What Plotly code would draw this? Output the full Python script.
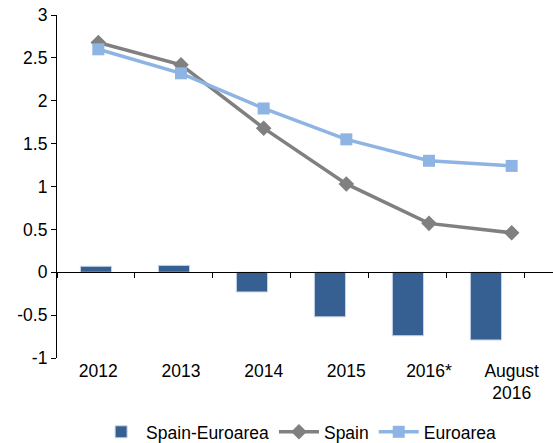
import plotly.graph_objects as go

categories = ['2012', '2013', '2014', '2015', '2016*', 'August<br>2016']
spain = [2.68, 2.42, 1.68, 1.03, 0.57, 0.46]
euroarea = [2.60, 2.32, 1.91, 1.55, 1.30, 1.24]
spain_minus_euro = [0.07, 0.08, -0.23, -0.52, -0.74, -0.79]

y_tick_vals = [-1, -0.5, 0, 0.5, 1, 1.5, 2, 2.5, 3]
y_tick_labels = ['-1', '-0.5', '0', '0.5', '1', '1.5', '2', '2.5', '3']

font_family = 'Liberation Sans, Arial, sans-serif'

fig = go.Figure()

fig.add_trace(go.Bar(
    x=categories,
    y=spain_minus_euro,
    name='Spain-Euroarea',
    xaxis='x2',
    marker=dict(color='#376092', line=dict(color='#c9d6e8', width=1))
))

fig.add_trace(go.Scatter(
    x=categories,
    y=spain,
    name='Spain',
    mode='lines+markers',
    line=dict(color='#808080', width=3.5),
    marker=dict(symbol='diamond', size=12, color='#808080')
))

fig.add_trace(go.Scatter(
    x=categories,
    y=euroarea,
    name='Euroarea',
    mode='lines+markers',
    line=dict(color='#8db4e2', width=3.5),
    marker=dict(symbol='square', size=12, color='#8db4e2')
))

fig.update_layout(
    width=553,
    height=443,
    margin=dict(l=57, r=0, t=15, b=85, autoexpand=False),
    paper_bgcolor='white',
    plot_bgcolor='white',
    font=dict(family=font_family, size=17.5, color='black'),
    bargap=0.6,
    showlegend=True,
    legend=dict(
        orientation='h',
        x=0.54,
        xanchor='center',
        xref='container',
        y=-0.163,
        yanchor='top',
        yref='paper',
        font=dict(size=17.5),
        itemwidth=40,
        tracegroupgap=0
    ),
    xaxis=dict(
        type='category',
        range=[-0.5, 5.5],
        showline=False,
        showgrid=False,
        zeroline=False,
        ticks='',
        automargin=False
    ),
    xaxis2=dict(
        type='category',
        range=[-0.5, 5.86],
        overlaying='x',
        anchor='free',
        position=0.25,
        side='bottom',
        showline=True,
        linecolor='black',
        linewidth=1.2,
        showgrid=False,
        ticks='outside',
        tickson='boundaries',
        ticklen=5,
        tickcolor='black',
        showticklabels=False,
        automargin=False
    ),
    yaxis=dict(
        range=[-1, 3],
        tickvals=y_tick_vals,
        ticktext=y_tick_labels,
        showgrid=False,
        zeroline=False,
        showline=True,
        linecolor='black',
        linewidth=1.2,
        ticks='outside',
        ticklen=5,
        tickcolor='black',
        automargin=False
    )
)

fig.write_html('out.html', config={'displayModeBar': False},
               post_script="document.body.style.margin='0';")
